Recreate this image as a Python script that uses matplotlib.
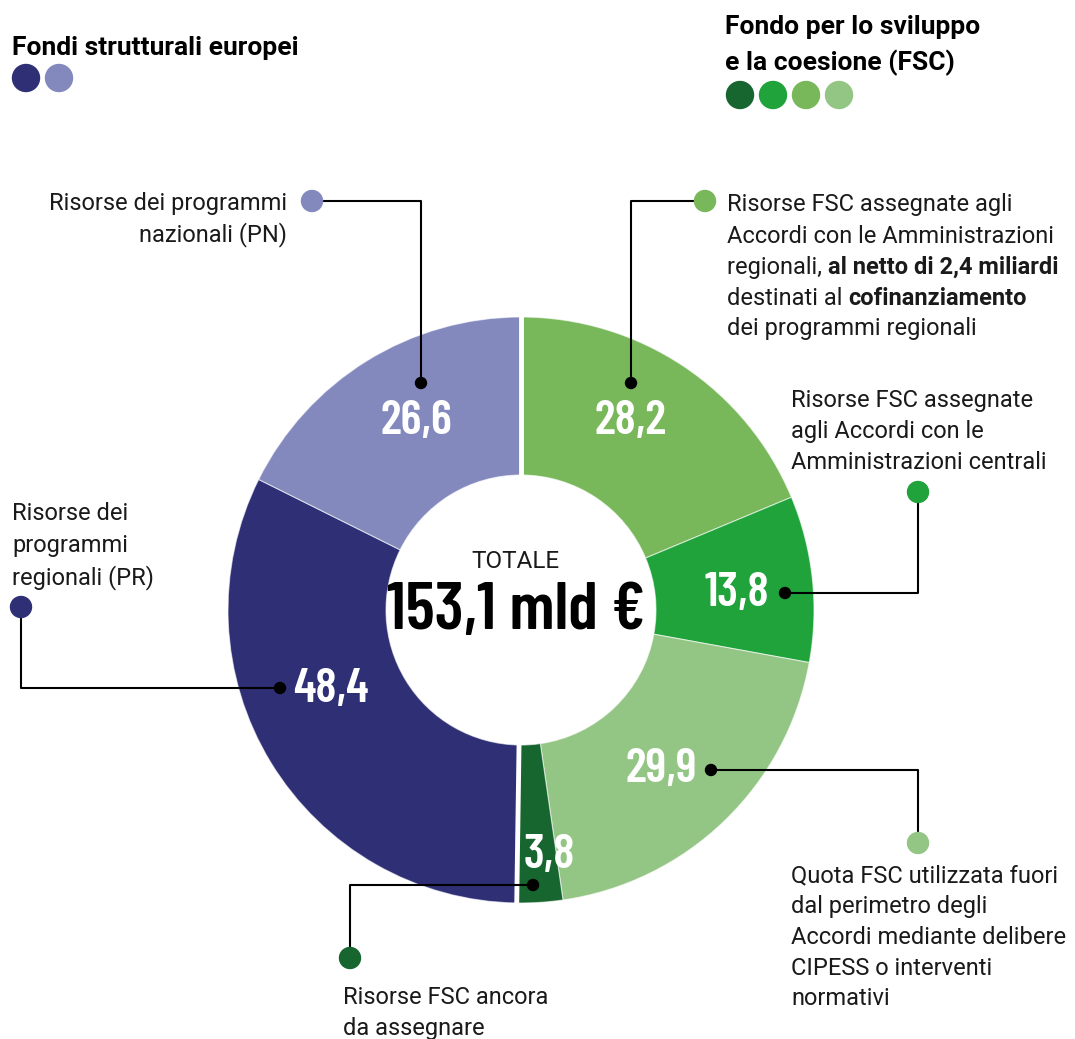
import matplotlib
matplotlib.use("Agg")
import numpy as np
import matplotlib.pyplot as plt
from matplotlib.patches import Circle
from matplotlib import font_manager as fm

# ---------------- data ----------------
segment_values = [28.2, 13.8, 29.9, 3.8, 48.4, 26.6]
segment_labels = ["28,2", "13,8", "29,9", "3,8", "48,4", "26,6"]
segment_colors = ["#78b85a", "#1fa33a", "#93c584", "#17652f", "#2e2f75", "#8389bd"]
total_label = "153,1 mld €"
total_title = "TOTALE"
eu_title = "Fondi strutturali europei"
fsc_title = ["Fondo per lo sviluppo", "e la coesione (FSC)"]
eu_legend_colors = ["#2e2f75", "#8389bd"]
fsc_legend_colors = ["#17652f", "#1fa33a", "#78b85a", "#93c584"]

W, H = 1075, 1039
fig = plt.figure(figsize=(W / 100, H / 100), dpi=100)
ax = fig.add_axes([0, 0, 1, 1])

def Y(y):
    return H - y

names = {f.name for f in fm.fontManager.ttflist}
COND = "Barlow Condensed" if "Barlow Condensed" in names else "DejaVu Sans"
BODY = "Roboto"
TXT = "#1a1a1a"

CX, CY, R_OUT, R_IN = 521, 610, 293, 135
wedges, _ = ax.pie(segment_values, colors=segment_colors, startangle=90, counterclock=False,
                   center=(CX, Y(CY)), radius=R_OUT, frame=True,
                   wedgeprops=dict(width=R_OUT - R_IN, edgecolor=(1, 1, 1, 0.6), linewidth=0.8))
ax.set_xlim(0, W)
ax.set_ylim(0, H)
ax.set_aspect("equal")
ax.axis("off")

# thicker white gaps between the two fund groups (FSC | EU)
w_fsc_last = wedges[3]
for ang in [max(wedges[0].theta1, wedges[0].theta2),
            min(w_fsc_last.theta1, w_fsc_last.theta2)]:
    a = np.deg2rad(ang)
    ax.plot([CX + (R_IN - 2) * np.cos(a), CX + (R_OUT + 2) * np.cos(a)],
            [Y(CY) + (R_IN - 2) * np.sin(a), Y(CY) + (R_OUT + 2) * np.sin(a)],
            color="white", lw=3.5, zorder=3, solid_capstyle="butt")

# numbers on wedges
label_pos = [(630, 421), (737, 593), (661, 770), (549, 855), (331, 690), (416, 421)]
for (x, y), t in zip(label_pos, segment_labels):
    ax.text(x, Y(y), t, color="white", fontsize=35, fontweight="semibold", family=COND,
            ha="center", va="center", zorder=5)

# center
ax.text(515, Y(562), total_title, fontsize=17.5, family=BODY, color=TXT, ha="center", va="center")
ax.text(516, Y(612), total_label, fontsize=49, family=COND, fontweight="semibold", color="black",
        ha="center", va="center")

# legends
ax.text(12, Y(48), eu_title, fontsize=19, family=BODY, fontweight="bold", color="black",
        ha="left", va="center")
for i, c in enumerate(eu_legend_colors):
    ax.add_patch(Circle((26 + 33 * i, Y(78)), 13.5, color=c, zorder=3))
for yy, t in zip([27, 63], fsc_title):
    ax.text(725, Y(yy), t, fontsize=19, family=BODY, fontweight="bold",
            color="black", ha="left", va="center")
for i, c in enumerate(fsc_legend_colors):
    ax.add_patch(Circle((740 + 33 * i, Y(95)), 13.5, color=c, zorder=3))

# leader lines
def leader(path, col):
    xs = [p[0] for p in path]
    ys = [Y(p[1]) for p in path]
    ax.plot(xs, ys, color="black", lw=1.5, zorder=6, solid_capstyle="butt")
    ax.add_patch(Circle((xs[0], ys[0]), 5.5, color="black", zorder=7))
    ax.add_patch(Circle((xs[-1], ys[-1]), 10.5, color=col, zorder=7))

leader([(421, 383), (421, 201), (312, 201)], segment_colors[5])
leader([(631, 383), (631, 201), (705, 201)], segment_colors[0])
leader([(785, 593), (918, 593), (918, 492)], segment_colors[1])
leader([(711, 770), (918, 770), (918, 843)], segment_colors[2])
leader([(533, 885), (350, 885), (350, 958)], segment_colors[3])
leader([(280, 688), (21, 688), (21, 607)], segment_colors[4])

FS = 17
def lines(x, ys, texts, ha="left"):
    for y, t in zip(ys, texts):
        ax.text(x, Y(y) - 7, t, fontsize=FS, family=BODY, color=TXT, ha=ha, va="baseline")

lines(287, [203, 234], ["Risorse dei programmi", "nazionali (PN)"], ha="right")
lines(12, [513, 545, 577], ["Risorse dei", "programmi", "regionali (PR)"])
lines(791, [400, 431, 462], ["Risorse FSC assegnate", "agli Accordi con le", "Amministrazioni centrali"])
lines(791, [875, 906, 937, 968, 998], ["Quota FSC utilizzata fuori", "dal perimetro degli",
                                      "Accordi mediante delibere", "CIPESS o interventi", "normativi"])
lines(343, [997, 1028], ["Risorse FSC ancora", "da assegnare"])

# mixed bold block
renderer = fig.canvas.get_renderer()
block = [
    [("Risorse FSC assegnate agli", "normal")],
    [("Accordi con le Amministrazioni", "normal")],
    [("regionali, ", "normal"), ("al netto di 2,4 miliardi", "bold")],
    [("destinati al ", "normal"), ("cofinanziamento", "bold")],
    [("dei programmi regionali", "normal")],
]
for y, parts in zip([204, 236, 267, 298, 328], block):
    x = 727
    for t, wgt in parts:
        txt = ax.text(x, Y(y) - 7, t, fontsize=FS, family=BODY, fontweight=wgt, color=TXT,
                      ha="left", va="baseline")
        bb = txt.get_window_extent(renderer)
        x += bb.width

fig.savefig("out.png", dpi=100)
